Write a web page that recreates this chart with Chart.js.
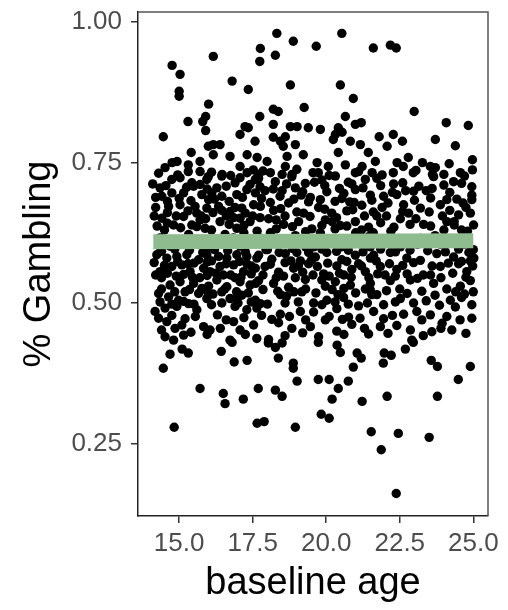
<!DOCTYPE html>
<html><head><meta charset="utf-8">
<script src="https://cdn.jsdelivr.net/npm/chart.js@4.4.1/dist/chart.umd.min.js"></script>
<style>html,body{margin:0;padding:0;background:#fff;overflow:hidden}</style>
</head><body>
<canvas id="c" width="508" height="610" style="width:508px;height:610px;display:block"></canvas>
<script>
const xTickValues = [15.0, 17.5, 20.0, 22.5, 25.0];
const yTickValues = [0.25, 0.50, 0.75, 1.00];
const xTitle = 'baseline age';
const yTitle = '% Gambling';
const fitLine = [[14.12, 0.609], [25.0, 0.611]];

const upperPoints = [
[16.16,0.939],[14.76,0.923],[15.03,0.907],[15.0,0.877],[15.0,0.868],[16.0,0.854],[15.3,0.823],[15.8,0.823],[15.9,0.832],[15.9,0.807],[14.46,0.796],
[17.76,0.953],[17.74,0.93],[17.74,0.832],[16.8,0.895],[17.35,0.88],[17.07,0.80],[17.24,0.814],[17.35,0.812],[17.58,0.788],
[15.99,0.779],[16.16,0.782],[16.39,0.782],[16.16,0.764],[15.41,0.768],[16.73,0.761],[17.31,0.764],[17.65,0.759],
[14.52,0.741],[14.76,0.75],[14.93,0.752],[15.31,0.746],[15.31,0.734],[15.71,0.752],[15.71,0.734],[15.99,0.725],[16.46,0.729],[17.07,0.743],[17.31,0.732],[17.52,0.737],[17.69,0.729],
[18.32,0.98],[20.53,0.98],[18.88,0.966],[18.27,0.941],[19.66,0.957],[21.6,0.954],[18.78,0.888],[20.48,0.888],[20.92,0.864],[19.25,0.848],[18.2,0.845],[18.37,0.841],[20.65,0.832],[20.99,0.818],[21.19,0.821],[18.2,0.818],[18.78,0.814],[19.01,0.814],[19.39,0.812],[19.8,0.809],[20.41,0.812],[20.31,0.80],[20.54,0.804],[18.2,0.795],[18.44,0.788],[18.61,0.796],[18.54,0.779],[18.95,0.782],[19.22,0.764],[18.67,0.761],[20.24,0.791],[20.82,0.788],[21.16,0.782],[20.41,0.768],[21.43,0.768],[17.99,0.752],[19.69,0.75],[20.07,0.743],[19.73,0.732],[20.65,0.746],[20.99,0.732],[21.22,0.743],[21.56,0.732],[18.1,0.732],[18.61,0.743],[18.84,0.729],
[22.18,0.959],[22.38,0.954],[22.99,0.841],[24.08,0.821],[24.83,0.816],[21.8,0.796],[22.28,0.80],[22.59,0.788],[22.07,0.779],[23.71,0.791],[24.39,0.78],[21.67,0.752],[22.41,0.75],[22.79,0.759],[22.62,0.743],[22.28,0.732],[23.27,0.75],[23.54,0.743],[23.71,0.741],[23.61,0.729],[22.96,0.732],[24.18,0.748],[24.97,0.755],[24.97,0.737],[24.56,0.732]
];

const lowerPoints = [
[14.69,0.409],[15.1,0.418],[15.31,0.411],[14.46,0.384],[16.43,0.414],[16.8,0.43],[16.87,0.395],[17.31,0.398],[15.71,0.348],[16.5,0.339],[16.56,0.321],[17.18,0.329],[17.69,0.348],[14.83,0.279],[17.65,0.286],
[18.03,0.429],[18.27,0.421],[18.5,0.429],[18.37,0.402],[18.88,0.393],[18.88,0.384],[19.01,0.361],[18.27,0.345],[18.5,0.334],[19.73,0.43],[20.37,0.425],[20.48,0.412],[21.05,0.411],[21.19,0.402],[20.92,0.386],[19.73,0.364],[20.1,0.364],[20.75,0.361],[20.41,0.348],[20.2,0.329],[21.22,0.325],[19.83,0.302],[20.1,0.295],[17.89,0.289],[18.95,0.279],[21.53,0.271],
[22.96,0.43],[22.69,0.418],[21.97,0.411],[22.21,0.407],[21.94,0.393],[23.57,0.398],[23.78,0.387],[24.9,0.387],[24.49,0.364],[22.07,0.334],[23.78,0.334],[22.45,0.268],[23.5,0.261],[21.87,0.239],[22.38,0.161]
];

const denseLeft = [
[14.75,0.720],[15.03,0.723],[15.43,0.714],[15.94,0.720],[16.45,0.726],[17.07,0.723],[17.59,0.720],[14.35,0.705],[15.71,0.711],[16.28,0.705],[17.41,0.711],
[14.41,0.690],[14.75,0.696],[15.15,0.696],[15.49,0.708],[15.77,0.693],[16.11,0.696],[16.45,0.690],[16.96,0.693],[17.30,0.702],[17.59,0.696],
[14.64,0.672],[15.03,0.675],[15.54,0.672],[15.94,0.669],[16.34,0.672],[17.13,0.669],[17.53,0.675],[16.73,0.663],
[14.41,0.651],[14.81,0.639],[15.43,0.639],[15.71,0.648],[15.88,0.633],[17.07,0.651],[17.41,0.645],[16.96,0.633],[15.15,0.654],[16.39,0.645],
[14.35,0.616],[14.92,0.610],[15.60,0.613],[16.28,0.607],[16.85,0.616],[17.41,0.610],[14.69,0.601],[15.94,0.598],[17.07,0.601],[15.32,0.622],[16.56,0.622],
[14.24,0.586],[14.58,0.580],[14.92,0.583],[15.26,0.586],[15.66,0.577],[15.94,0.586],[16.34,0.583],[16.62,0.580],[16.96,0.586],[17.30,0.583],[17.64,0.580],
[14.35,0.556],[14.75,0.565],[15.09,0.568],[15.37,0.556],[15.83,0.562],[16.05,0.556],[16.39,0.565],[16.85,0.568],[17.19,0.556],[17.59,0.562],
[14.69,0.532],[15.03,0.538],[15.49,0.535],[15.77,0.526],[16.28,0.541],[16.62,0.529],[17.07,0.538],[17.41,0.532],
[14.30,0.517],[14.64,0.511],[14.98,0.505],[15.66,0.517],[15.94,0.508],[16.73,0.508],[17.13,0.514],[17.59,0.505],
[14.18,0.485],[14.52,0.491],[14.92,0.494],[15.32,0.499],[15.60,0.488],[16.90,0.494],[17.30,0.488],[17.64,0.491],
[14.58,0.467],[14.86,0.455],[15.09,0.461],[15.83,0.458],[16.05,0.452],[16.85,0.467],[17.07,0.452],[17.53,0.461],
[14.52,0.440],[14.81,0.434],[15.15,0.443],[16.73,0.434],[17.64,0.437],
[14.20,0.670],[14.50,0.630],[14.90,0.655],[15.20,0.605],[15.60,0.660],[15.90,0.650],[16.20,0.685],[16.60,0.655],[16.90,0.670],[17.20,0.625],[17.50,0.655],[14.40,0.545],[14.90,0.548],[15.30,0.570],[15.70,0.545],[16.10,0.575],[16.50,0.550],[16.90,0.545],[17.30,0.570],[17.60,0.535],[15.20,0.520],[16.00,0.530],[16.45,0.520],[17.00,0.500],[14.35,0.600]
];

const denseMiddle = [
[17.70,0.722],[18.27,0.716],[18.83,0.725],[19.29,0.713],[19.85,0.719],[20.31,0.726],[20.87,0.712],[21.33,0.720],
[17.92,0.700],[18.43,0.690],[18.95,0.705],[19.46,0.688],[20.02,0.698],[20.53,0.686],[20.99,0.702],[21.50,0.692],
[17.76,0.672],[18.21,0.665],[18.72,0.678],[19.23,0.660],[19.74,0.670],[20.19,0.660],[20.70,0.664],[21.21,0.674],
[18.04,0.650],[18.55,0.640],[19.06,0.645],[19.51,0.632],[19.97,0.648],[20.48,0.638],[20.99,0.645],[21.44,0.635],
[17.81,0.615],[18.38,0.605],[18.95,0.620],[19.57,0.600],[20.19,0.612],[20.82,0.608],[21.44,0.618],
[17.70,0.585],[18.15,0.578],[18.61,0.588],[19.12,0.575],[19.63,0.582],[20.02,0.590],[20.53,0.577],[20.99,0.585],[21.50,0.580],
[17.92,0.565],[18.38,0.555],[18.89,0.562],[19.40,0.570],[19.91,0.552],[20.36,0.566],[20.87,0.560],[21.33,0.556],
[17.70,0.540],[18.21,0.535],[18.72,0.528],[19.29,0.542],[19.97,0.530],[20.31,0.538],[20.82,0.532],[21.33,0.525],
[17.76,0.499],[18.44,0.515],[19.17,0.520],[19.57,0.500],[20.02,0.505],[20.59,0.510],[21.10,0.495],[21.55,0.515],
[17.80,0.478],[18.44,0.480],[19.12,0.485],[19.57,0.484],[20.36,0.490],[20.76,0.475],
[18.38,0.465],[18.83,0.455],[19.46,0.458],[19.74,0.440],[20.36,0.450],[20.87,0.462],[21.44,0.445],[18.04,0.435],[19.97,0.470],
[18.10,0.625],[18.60,0.655],[19.00,0.590],[19.40,0.680],[19.80,0.625],[20.20,0.645],[20.60,0.695],[21.00,0.625],[21.30,0.655],[18.30,0.545],[18.80,0.575],[19.20,0.555],[19.70,0.565],[20.10,0.548],[20.60,0.550],[21.10,0.570],[18.00,0.595],[19.30,0.600],[20.50,0.600],[21.50,0.600],[18.50,0.700],[19.60,0.715],[20.80,0.680],[18.90,0.520],[20.40,0.515]
];

const denseRight = [
[21.72,0.722],[22.29,0.712],[22.97,0.699],[23.65,0.725],[24.33,0.716],[24.95,0.684],
[21.95,0.690],[22.63,0.675],[23.20,0.669],[23.88,0.675],[24.44,0.685],
[21.72,0.655],[22.52,0.650],[23.31,0.640],[24.10,0.645],[24.50,0.657],[25.01,0.639],
[21.84,0.610],[22.52,0.600],[23.20,0.615],[23.88,0.605],[24.56,0.610],
[21.61,0.585],[22.18,0.590],[22.74,0.580],[23.76,0.588],[24.33,0.582],[24.90,0.575],
[21.84,0.565],[22.40,0.560],[22.97,0.572],[23.88,0.565],[24.78,0.556],
[21.50,0.535],[22.18,0.540],[22.86,0.541],[23.65,0.535],[24.10,0.525],[24.56,0.530],[24.90,0.540],
[21.72,0.515],[22.52,0.508],[22.97,0.500],[24.22,0.505],[24.39,0.493],
[21.61,0.485],[22.63,0.480],[23.08,0.485],[23.54,0.479],[23.94,0.464],[24.95,0.473],
[21.84,0.458],[22.40,0.460],[22.86,0.452],[23.59,0.449],[24.27,0.452],[22.91,0.434],
[21.90,0.670],[22.30,0.635],[22.80,0.660],[23.40,0.700],[23.70,0.620],[24.20,0.665],[24.60,0.630],[24.90,0.660],[22.00,0.550],[22.50,0.525],[23.30,0.550],[23.90,0.545],[24.50,0.570],[25.00,0.595],[21.60,0.625],[23.10,0.605],[24.70,0.605],[22.70,0.700],[24.00,0.710],[25.02,0.580],[25.00,0.520]
];

const denseFill = [
[14.3,0.731],[14.95,0.728],[16.1,0.733],[16.75,0.727],[17.85,0.735],[18.5,0.729],[19.55,0.732],[20.1,0.727],[21.1,0.734],[21.9,0.728],[23.05,0.736],[24.0,0.729],[24.7,0.726],[19.0,0.738],
[14.1,0.712],[14.55,0.709],[15.25,0.706],[15.95,0.703],[16.6,0.708],[16.9,0.714],[17.75,0.707],[18.2,0.703],[18.65,0.712],[19.2,0.698],[19.95,0.709],[20.45,0.704],[20.75,0.715],[21.25,0.705],[21.85,0.709],[22.25,0.697],[22.6,0.714],[23.15,0.708],[23.6,0.704],[24.2,0.697],[24.6,0.713],[24.95,0.707],
[14.2,0.688],[14.6,0.681],[15.0,0.686],[15.4,0.682],[16.0,0.684],[16.7,0.681],[17.15,0.688],[17.8,0.686],[18.1,0.679],[18.9,0.685],[19.15,0.692],[19.8,0.684],[20.3,0.681],[20.95,0.679],[21.55,0.683],[22.1,0.678],[22.4,0.693],[23.0,0.683],[23.55,0.687],[24.1,0.684],[24.65,0.678],[24.95,0.692],
[14.15,0.655],[14.6,0.661],[15.3,0.664],[15.75,0.655],[16.15,0.661],[16.45,0.665],[16.85,0.652],[17.25,0.66],[17.75,0.652],[18.3,0.648],[18.45,0.668],[19.0,0.662],[19.45,0.654],[19.95,0.667],[20.35,0.652],[20.9,0.666],[21.6,0.662],[22.05,0.655],[22.6,0.663],[23.05,0.65],[23.5,0.662],[23.95,0.655],[24.35,0.645],[24.75,0.67],
[14.25,0.637],[14.6,0.642],[15.05,0.634],[15.6,0.636],[16.1,0.63],[16.7,0.64],[17.2,0.638],[17.65,0.628],[18.3,0.632],[18.85,0.636],[19.3,0.627],[19.85,0.638],[20.3,0.632],[20.7,0.637],[21.2,0.63],[21.85,0.643],[22.2,0.628],[22.85,0.64],[23.55,0.637],[24.0,0.63],[24.35,0.639],[24.8,0.628],
[14.4,0.592],[14.85,0.596],[15.35,0.594],[15.8,0.59],[16.2,0.595],[16.65,0.593],[17.25,0.591],[17.95,0.595],[18.4,0.59],[18.85,0.597],[19.4,0.59],[19.85,0.596],[20.35,0.592],[20.75,0.594],[21.25,0.591],[21.85,0.596],[22.35,0.591],[22.85,0.594],[23.45,0.593],[24.05,0.591],[24.5,0.596],[24.85,0.59],
[14.15,0.572],[14.5,0.567],[14.95,0.574],[15.5,0.571],[15.95,0.573],[16.6,0.57],[17.05,0.574],[17.45,0.566],[18.1,0.569],[18.6,0.572],[19.05,0.566],[19.5,0.577],[20.05,0.571],[20.7,0.574],[21.2,0.566],[21.7,0.575],[22.15,0.57],[22.6,0.567],[23.2,0.576],[23.6,0.566],[24.15,0.571],[24.6,0.574],[24.98,0.566],
[14.2,0.55],[14.6,0.553],[15.15,0.551],[15.45,0.546],[15.95,0.549],[16.25,0.553],[16.75,0.55],[17.1,0.546],[17.45,0.552],[17.85,0.55],[18.55,0.548],[18.95,0.545],[19.55,0.55],[19.85,0.541],[20.45,0.553],[20.85,0.546],[21.45,0.545],[21.75,0.552],[22.35,0.548],[22.75,0.552],[23.1,0.544],[23.55,0.55],[24.3,0.553],[24.75,0.546],
[14.4,0.525],[14.85,0.52],[15.35,0.524],[15.95,0.521],[16.15,0.516],[16.55,0.525],[16.95,0.52],[17.35,0.518],[17.85,0.524],[18.35,0.521],[18.65,0.512],[19.3,0.525],[19.65,0.518],[20.2,0.524],[20.6,0.526],[21.0,0.518],[21.5,0.523],[22.05,0.522],[22.75,0.517],[23.25,0.521],[23.7,0.514],[24.4,0.52],[24.7,0.516],
[14.35,0.502],[14.75,0.498],[15.15,0.503],[15.5,0.498],[16.1,0.497],[16.45,0.5],[16.95,0.507],[17.45,0.502],[18.0,0.498],[18.6,0.5],[19.05,0.502],[19.85,0.497],[20.3,0.502],[20.75,0.498],[21.4,0.5],[21.95,0.497],[22.35,0.502],[23.4,0.504],[23.85,0.496],[24.6,0.51],[24.95,0.497],
[14.3,0.473],[14.75,0.478],[15.2,0.472],[15.55,0.476],[16.3,0.479],[16.6,0.47],[17.2,0.474],[18.15,0.471],[18.75,0.476],[19.3,0.47],[20.1,0.476],[20.55,0.471],[21.15,0.473],[21.95,0.472],[22.25,0.478],[23.25,0.47],[24.1,0.476],[24.55,0.47],
[14.4,0.452],[15.4,0.448],[15.95,0.444],[16.4,0.455],[17.25,0.444],[18.6,0.442],[19.2,0.447],[20.6,0.444],[21.3,0.455],[22.1,0.446],[23.3,0.442],[23.9,0.455],[24.75,0.446]
];

const FONT = "'Liberation Sans', Arial, Helvetica, sans-serif";
const toXY = arr => arr.map(p => ({x: p[0], y: p[1]}));
const scatterData = toXY([].concat(upperPoints, denseLeft, denseMiddle, denseRight, denseFill, lowerPoints));

const panelBorder = {
  id: 'panelBorder',
  afterDatasetsDraw(chart) {
    const {ctx, chartArea: a} = chart;
    ctx.save();
    ctx.strokeStyle = '#555';
    ctx.lineWidth = 1.5;
    ctx.beginPath();
    ctx.moveTo(a.left, a.top); ctx.lineTo(a.right, a.top); ctx.lineTo(a.right, a.bottom);
    ctx.stroke();
    ctx.restore();
  }
};

function zeroPad(s) { s.paddingTop = 0; s.paddingBottom = 0; s.paddingLeft = 0; s.paddingRight = 0; }

new Chart(document.getElementById('c'), {
  type: 'scatter',
  data: {
    datasets: [
      {
        type: 'line',
        data: toXY(fitLine),
        borderColor: '#8FBC8F',
        borderWidth: 15,
        borderCapStyle: 'butt',
        pointRadius: 0,
        fill: false,
        order: 0
      },
      {
        data: scatterData,
        backgroundColor: '#000',
        borderWidth: 0,
        pointRadius: 4.7,
        pointHoverRadius: 4.7,
        order: 1
      }
    ]
  },
  options: {
    responsive: false,
    animation: false,
    devicePixelRatio: 1,
    layout: {padding: {left: 0, right: 20, top: 12, bottom: 0}},
    plugins: {legend: {display: false}, tooltip: {enabled: false}},
    scales: {
      x: {
        type: 'linear', min: 13.6, max: 25.5,
        afterBuildTicks: s => { s.ticks = xTickValues.map(v => ({value: v})); },
        afterFit: s => { s.height = 94; zeroPad(s); },
        ticks: {callback: v => Number(v).toFixed(1), font: {family: FONT, size: 26}, color: '#4d4d4d', padding: 5, maxRotation: 0, autoSkip: false},
        grid: {display: true, drawOnChartArea: false, drawTicks: true, tickLength: 7, color: '#333', lineWidth: 1.5},
        border: {display: true, color: '#222', width: 1.5},
        title: {display: true, text: xTitle, font: {family: FONT, size: 38}, color: '#000', padding: {top: 0, bottom: 4}}
      },
      y: {
        type: 'linear', min: 0.121, max: 1.018,
        afterBuildTicks: s => { s.ticks = yTickValues.map(v => ({value: v})); },
        afterFit: s => { s.width = 138; zeroPad(s); },
        ticks: {callback: v => Number(v).toFixed(2), font: {family: FONT, size: 26}, color: '#4d4d4d', padding: 9, autoSkip: false},
        grid: {display: true, drawOnChartArea: false, drawTicks: true, tickLength: 7, color: '#333', lineWidth: 1.5},
        border: {display: true, color: '#222', width: 1.5},
        title: {display: true, text: yTitle, font: {family: FONT, size: 38}, color: '#000', padding: {top: 17, bottom: 0}}
      }
    }
  },
  plugins: [panelBorder]
});
</script>
</body></html>
